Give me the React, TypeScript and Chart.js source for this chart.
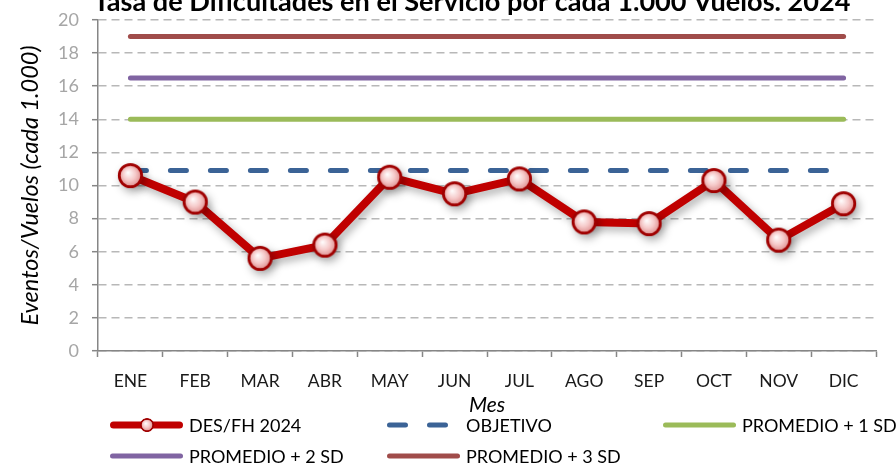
import React, { useEffect, useRef } from "react";
import { Chart, registerables } from "chart.js";

Chart.register(...registerables);

const months = ["ENE", "FEB", "MAR", "ABR", "MAY", "JUN", "JUL", "AGO", "SEP", "OCT", "NOV", "DIC"];
const desFh2024 = [10.6, 9.0, 5.6, 6.4, 10.5, 9.5, 10.4, 7.8, 7.7, 10.3, 6.7, 8.9];
const objetivo = [10.9, 10.9, 10.9, 10.9, 10.9, 10.9, 10.9, 10.9, 10.9, 10.9, 10.9, 10.9];
const promedio1sd = [14.0, 14.0, 14.0, 14.0, 14.0, 14.0, 14.0, 14.0, 14.0, 14.0, 14.0, 14.0];
const promedio2sd = [16.5, 16.5, 16.5, 16.5, 16.5, 16.5, 16.5, 16.5, 16.5, 16.5, 16.5, 16.5];
const promedio3sd = [19.0, 19.0, 19.0, 19.0, 19.0, 19.0, 19.0, 19.0, 19.0, 19.0, 19.0, 19.0];
const seriesLabels = ["DES/FH 2024", "OBJETIVO", "PROMEDIO + 1 SD", "PROMEDIO + 2 SD", "PROMEDIO + 3 SD"];
const yMin = 0;
const yMax = 20;
const yStep = 2;
const chartTitle = "Tasa de Dificultades en el Servicio por cada 1.000 Vuelos. 2024";
const yTitle = "Eventos/Vuelos (cada 1.000)";
const xTitle = "Mes";

const FONT = "Lato, 'Open Sans', sans-serif";

function makeMarker(r: number): HTMLCanvasElement {
  const size = Math.ceil(r * 2 + 4);
  const c = document.createElement("canvas");
  c.width = size;
  c.height = size;
  const g = c.getContext("2d")!;
  const cx = size / 2;
  const cy = size / 2;
  const grad = g.createRadialGradient(cx - r * 0.2, cy - r * 0.25, 0, cx, cy, r);
  grad.addColorStop(0, "#ffffff");
  grad.addColorStop(0.5, "#f6caca");
  grad.addColorStop(0.82, "#e39c9c");
  grad.addColorStop(1, "#c24848");
  g.beginPath();
  g.arc(cx, cy, r - 1.3, 0, Math.PI * 2);
  g.fillStyle = grad;
  g.fill();
  g.lineWidth = 2.8;
  g.strokeStyle = "#a00000";
  g.stroke();
  return c;
}

const titlePlugin = {
  id: "customTitle",
  afterDraw(chart: any) {
    const ctx = chart.ctx as CanvasRenderingContext2D;
    ctx.save();
    ctx.fillStyle = "#000000";
    ctx.textAlign = "center";
    ctx.textBaseline = "alphabetic";
    let size = 25;
    ctx.font = `bold ${size}px ${FONT}`;
    const w = ctx.measureText(chartTitle).width;
    const target = 757;
    size = size * (target / w);
    ctx.font = `bold ${size}px ${FONT}`;
    ctx.fillText(chartTitle, 472, 11);
    ctx.restore();
  },
};

const shadowPlugin = {
  id: "lineShadow",
  beforeDatasetDraw(chart: any, args: any) {
    if (args.index !== 0) return;
    const ctx = chart.ctx as CanvasRenderingContext2D;
    ctx.save();
    ctx.shadowColor = "rgba(0,0,0,0.32)";
    ctx.shadowBlur = 9;
    ctx.shadowOffsetX = 3;
    ctx.shadowOffsetY = 4;
  },
  afterDatasetDraw(chart: any, args: any) {
    if (args.index !== 0) return;
    chart.ctx.restore();
  },
};

const legendPlugin = {
  id: "gridLegend",
  afterDraw(chart: any) {
    const ctx = chart.ctx as CanvasRenderingContext2D;
    const slots = [
      { x: 110, y: 425 },
      { x: 387, y: 425 },
      { x: 663, y: 425 },
      { x: 110, y: 456 },
      { x: 387, y: 456 },
    ];
    const lineLen = 73;
    chart.data.datasets.forEach((ds: any, i: number) => {
      const s = slots[i];
      if (!s) return;
      ctx.save();
      ctx.strokeStyle = ds.borderColor;
      ctx.lineCap = "round";
      if (i === 0) {
        ctx.lineWidth = 7;
        ctx.beginPath();
        ctx.moveTo(s.x + 3.5, s.y);
        ctx.lineTo(s.x + lineLen - 3.5, s.y);
        ctx.stroke();
        const m = ds.pointStyle as HTMLCanvasElement;
        ctx.drawImage(m, s.x + 37 - 8, s.y - 8, 16, 16);
      } else {
        ctx.lineWidth = ds.borderWidth;
        ctx.setLineDash(ds.borderDash || []);
        ctx.beginPath();
        ctx.moveTo(s.x + 2.5, s.y);
        ctx.lineTo(s.x + lineLen - 2.5, s.y);
        ctx.stroke();
      }
      ctx.setLineDash([]);
      ctx.fillStyle = "#000000";
      ctx.font = `18px ${FONT}`;
      ctx.textAlign = "left";
      ctx.textBaseline = "middle";
      ctx.fillText(ds.label, s.x + lineLen + 6, s.y + 1);
      ctx.restore();
    });
  },
};

export default function App() {
  const ref = useRef<HTMLCanvasElement | null>(null);

  useEffect(() => {
    if (!ref.current) return;
    Chart.defaults.font.family = FONT;
    const marker = makeMarker(12.5);
    const chart = new Chart(ref.current, {
      type: "line",
      data: {
        labels: months,
        datasets: [
          {
            label: seriesLabels[0],
            data: desFh2024,
            borderColor: "#c00000",
            backgroundColor: "#c00000",
            borderWidth: 8,
            borderJoinStyle: "round",
            borderCapStyle: "round",
            pointStyle: marker as any,
            pointRadius: 12,
            pointHoverRadius: 12,
            tension: 0,
          },
          {
            label: seriesLabels[1],
            data: objetivo,
            borderColor: "#3b6396",
            borderWidth: 5,
            borderDash: [16, 24],
            borderCapStyle: "round",
            pointRadius: 0,
          },
          {
            label: seriesLabels[2],
            data: promedio1sd,
            borderColor: "#9bbb59",
            borderWidth: 5,
            borderCapStyle: "round",
            pointRadius: 0,
          },
          {
            label: seriesLabels[3],
            data: promedio2sd,
            borderColor: "#8064a2",
            borderWidth: 5,
            borderCapStyle: "round",
            pointRadius: 0,
          },
          {
            label: seriesLabels[4],
            data: promedio3sd,
            borderColor: "#a04c4a",
            borderWidth: 5,
            borderCapStyle: "round",
            pointRadius: 0,
          },
        ],
      },
      options: {
        responsive: false,
        animation: false,
        devicePixelRatio: 1,
        layout: { padding: { top: 19, left: 0, right: 14, bottom: 48 } },
        plugins: {
          legend: { display: false },
          title: { display: false },
          tooltip: { enabled: false },
        },
        scales: {
          x: {
            type: "category",
            offset: true,
            grid: {
              display: true,
              offset: true,
              drawOnChartArea: false,
              drawTicks: true,
              tickLength: 6,
              tickColor: "#868686",
              tickWidth: 1.5,
            },
            border: { display: true, color: "#868686", width: 1.5 },
            ticks: {
              color: "#1a1a1a",
              font: { size: 17.5, family: FONT },
              padding: 14,
              maxRotation: 0,
              autoSkip: false,
            },
            title: {
              display: true,
              text: xTitle,
              color: "#000000",
              font: { size: 21, style: "italic", family: FONT },
              padding: { top: 0, bottom: 0 },
            },
            afterFit(scale: any) {
              scale.height = 67;
            },
          },
          y: {
            min: yMin,
            max: yMax,
            grid: {
              color: "#b8b8b8",
              lineWidth: 1.4,
              drawTicks: true,
              tickLength: 6,
              tickColor: "#868686",
              tickWidth: 1.5,
              tickBorderDash: [],
            },
            border: { display: true, color: "#868686", width: 1.5, dash: [8, 5] },
            ticks: {
              stepSize: yStep,
              color: "#a6a6a6",
              font: { size: 18, family: FONT },
              padding: 13,
            },
            title: {
              display: true,
              text: yTitle,
              color: "#000000",
              font: { size: 23.5, style: "italic", family: FONT },
              padding: { top: 16, bottom: 0 },
            },
            afterFit(scale: any) {
              scale.width = 98;
              scale.paddingTop = 0;
              scale.paddingBottom = 0;
            },
          },
        },
      },
      plugins: [shadowPlugin, titlePlugin, legendPlugin],
    } as any);
    return () => chart.destroy();
  }, []);

  return (
    <div style={{ position: "fixed", left: 0, top: 0, width: 896, height: 466, background: "#ffffff" }}>
      <canvas ref={ref} width={896} height={466} style={{ width: 896, height: 466, display: "block" }} />
    </div>
  );
}
